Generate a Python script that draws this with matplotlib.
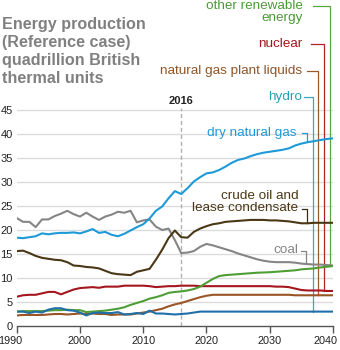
import matplotlib
matplotlib.use("Agg")
import matplotlib.pyplot as plt
import matplotlib.transforms as mtransforms
import numpy as np

years = np.arange(1990, 2041)

coal = [22.5, 21.7, 21.7, 20.6, 22.2, 22.2, 22.9, 23.4, 24.0, 23.3,
        22.8, 23.6, 22.8, 22.1, 22.8, 23.2, 23.8, 23.6, 24.0, 21.6,
        22.0, 22.2, 20.7, 20.0, 20.3, 17.9, 15.2, 15.3, 15.6, 16.5,
        17.1, 16.8, 16.4, 16.0, 15.6, 15.1, 14.7, 14.3, 13.9, 13.6,
        13.4, 13.3, 13.3, 13.3, 13.2, 13.0, 12.9, 12.8, 12.8, 12.7, 12.6]
dry_gas = [18.4, 18.3, 18.5, 18.7, 19.3, 19.1, 19.3, 19.4, 19.4, 19.5,
           19.3, 19.7, 20.2, 19.4, 19.6, 19.0, 18.7, 19.2, 19.9, 20.6,
           21.2, 22.4, 24.0, 24.9, 26.6, 28.1, 27.5, 28.7, 30.1, 31.0,
           31.8, 32.0, 32.5, 33.2, 34.0, 34.6, 34.9, 35.4, 35.8, 36.1,
           36.3, 36.5, 36.7, 37.0, 37.6, 38.0, 38.3, 38.5, 38.75, 38.95, 39.1]
crude = [15.6, 15.7, 15.2, 14.6, 14.2, 14.0, 13.8, 13.7, 13.3, 12.6,
         12.5, 12.3, 12.2, 12.0, 11.5, 11.0, 10.8, 10.7, 10.6, 11.3,
         11.6, 11.9, 13.8, 15.9, 18.3, 19.9, 18.5, 18.4, 19.6, 20.3,
         20.8, 21.2, 21.4, 21.7, 21.8, 21.9, 22.0, 22.1, 22.1, 22.1,
         22.0, 22.0, 21.9, 21.8, 21.6, 21.4, 21.4, 21.5, 21.5, 21.5, 21.5]
nuclear = [6.1, 6.4, 6.5, 6.5, 6.8, 7.1, 7.1, 6.6, 7.1, 7.6,
           7.9, 8.0, 8.1, 7.96, 8.2, 8.2, 8.2, 8.4, 8.4, 8.4,
           8.4, 8.3, 8.1, 8.2, 8.3, 8.3, 8.4, 8.4, 8.4, 8.3,
           8.3, 8.3, 8.3, 8.3, 8.3, 8.3, 8.3, 8.3, 8.3, 8.3,
           8.3, 8.2, 8.2, 8.1, 7.8, 7.5, 7.4, 7.4, 7.4, 7.3, 7.3]
ngpl = [2.2, 2.3, 2.3, 2.3, 2.3, 2.4, 2.5, 2.5, 2.4, 2.5,
        2.6, 2.5, 2.6, 2.5, 2.5, 2.3, 2.4, 2.4, 2.4, 2.6,
        2.8, 3.0, 3.3, 3.6, 4.1, 4.5, 4.8, 5.2, 5.6, 6.0,
        6.3, 6.5, 6.5, 6.5, 6.5, 6.5, 6.5, 6.5, 6.5, 6.5,
        6.5, 6.5, 6.5, 6.5, 6.4, 6.4, 6.4, 6.4, 6.4, 6.4, 6.4]
renewable = [3.0, 3.1, 3.1, 3.1, 3.1, 3.2, 3.3, 3.3, 3.4, 3.3,
             3.3, 2.9, 3.0, 3.1, 3.2, 3.4, 3.6, 3.9, 4.4, 4.8,
             5.2, 5.7, 6.0, 6.4, 6.9, 7.1, 7.2, 7.4, 7.7, 8.2,
             9.0, 9.8, 10.4, 10.6, 10.7, 10.8, 10.9, 11.0, 11.1, 11.15,
             11.2, 11.3, 11.4, 11.5, 11.6, 11.8, 11.9, 12.0, 12.2, 12.35, 12.5]
hydro = [3.0, 3.0, 2.7, 3.0, 2.8, 3.4, 3.7, 3.7, 3.3, 3.2,
         2.8, 2.2, 2.7, 2.8, 2.7, 2.7, 2.9, 2.4, 2.5, 2.7,
         2.5, 3.2, 2.6, 2.6, 2.5, 2.4, 2.5, 2.6, 2.8, 3.0,
         3.0, 3.0, 3.0, 3.0, 3.0, 3.0, 3.0, 3.0, 3.0, 3.0,
         3.0, 3.0, 3.0, 3.0, 3.0, 3.0, 3.0, 3.0, 3.0, 3.0, 3.0]

title_lines = ['Energy production', '(Reference case)',
               'quadrillion British', 'thermal units']

plt.rcParams['font.family'] = ['Liberation Sans', 'DejaVu Sans']

W, H = 340, 350
X0, Y0 = 16.7, 326.0      # pixel position of (1990, 0)
PX_YEAR, PX_UNIT = 6.326, 4.8
YTOP = 47


def dx(px):
    # pixel column -> year
    return 1990 + (px - X0) / PX_YEAR


def dy(py):
    # pixel row -> value
    return (Y0 - py) / PX_UNIT


fig = plt.figure(figsize=(W / 100, H / 100), dpi=100)
ax = fig.add_axes([X0 / W, (H - Y0) / H, 50 * PX_YEAR / W, YTOP * PX_UNIT / H])
ax.set_xlim(1990, 2040)
ax.set_ylim(0, YTOP)

for s in ['top', 'right', 'left']:
    ax.spines[s].set_visible(False)
ax.spines['bottom'].set_color('#555555')
ax.spines['bottom'].set_linewidth(1.0)

ax.set_yticks(range(0, 50, 5))
ax.set_xticks(range(1990, 2041, 10))
ax.tick_params(axis='y', length=0, pad=3, labelsize=8, labelcolor='#222222')
ax.tick_params(axis='x', length=5, width=1, color='#555555', pad=2,
               labelsize=7.8, labelcolor='#222222')
for v in range(5, 50, 5):
    ax.axhline(v, color='#dcdcdc', lw=1, zorder=0)

# first and last year labels pulled inside the picture
xlabels = ax.get_xticklabels()
xlabels[0].set_transform(xlabels[0].get_transform() +
                         mtransforms.ScaledTranslation(-6 / 100, 0, fig.dpi_scale_trans))
xlabels[-1].set_transform(xlabels[-1].get_transform() +
                          mtransforms.ScaledTranslation(-8 / 100, 0, fig.dpi_scale_trans))

# 2016 marker
ax.plot([2016, 2016], [0, dy(108)], color='#b0b0b0', lw=1,
        dashes=(3, 2), clip_on=False, zorder=1)
ax.text(2016, dy(101), '2016', ha='center', va='center', fontsize=8,
        fontweight='bold', color='#222222')

series = [
    (coal, '#858585'),
    (dry_gas, '#1e9ad8'),
    (crude, '#4a3716'),
    (nuclear, '#a5171f'),
    (ngpl, '#9a5526'),
    (renewable, '#4f9e35'),
    (hydro, '#1f6fa8'),
]
for vals, c in series:
    ax.plot(years, vals, color=c, lw=1.5, zorder=3, solid_joinstyle='round')

# labels: text lines, series, text colour, leader colour, right edge px,
# first line centre px, leader row px, leader start px, leader column px
labels = [
    (['other renewable', 'energy'], renewable, '#4a9a36', '#5aa842', 302.7, 6, 6, 313.3, 330.3),
    (['nuclear'], nuclear, '#a3161e', '#b0252a', 302.7, 44, 44, 310.7, 324.3),
    (['natural gas plant liquids'], ngpl, '#8e5528', '#9a5a2c', 302.3, 71, 71, 307, 318.3),
    (['hydro'], hydro, '#2aa0b6', '#3aa8c0', 301.7, 97, 97, 303.5, 312.7),
    (['dry natural gas'], dry_gas, '#1e9ad8', '#1e9ad8', 296.7, 133, 133, 301.5, 306.7),
    (['crude oil and', 'lease condensate'], crude, '#4a3716', '#3a2a10', 298.3, 196, 209, 301.5, 306.7),
    (['coal'], coal, '#858585', '#858585', 298.3, 250, 250.5, 301, 306.3),
]
for lines, vals, tc, lc, rx, ty, hy, hx0, lx in labels:
    for i, line in enumerate(lines):
        ax.text(dx(rx), dy(ty + 12.3 * i), line, ha='right', va='center',
                fontsize=9.7, color=tc, clip_on=False)
    x_lead = dx(lx)
    end = np.interp(x_lead, years, vals)
    ax.plot([dx(hx0), x_lead, x_lead], [dy(hy), dy(hy), end], color=lc,
            lw=0.9, clip_on=False, zorder=2)

for i, line in enumerate(title_lines):
    fig.text(1.5 / W, 1 - (24 + 18.1 * i) / H, line, ha='left', va='center',
             fontsize=11.6, fontweight='bold', color='#808080')

fig.savefig('out.png', dpi=100)
